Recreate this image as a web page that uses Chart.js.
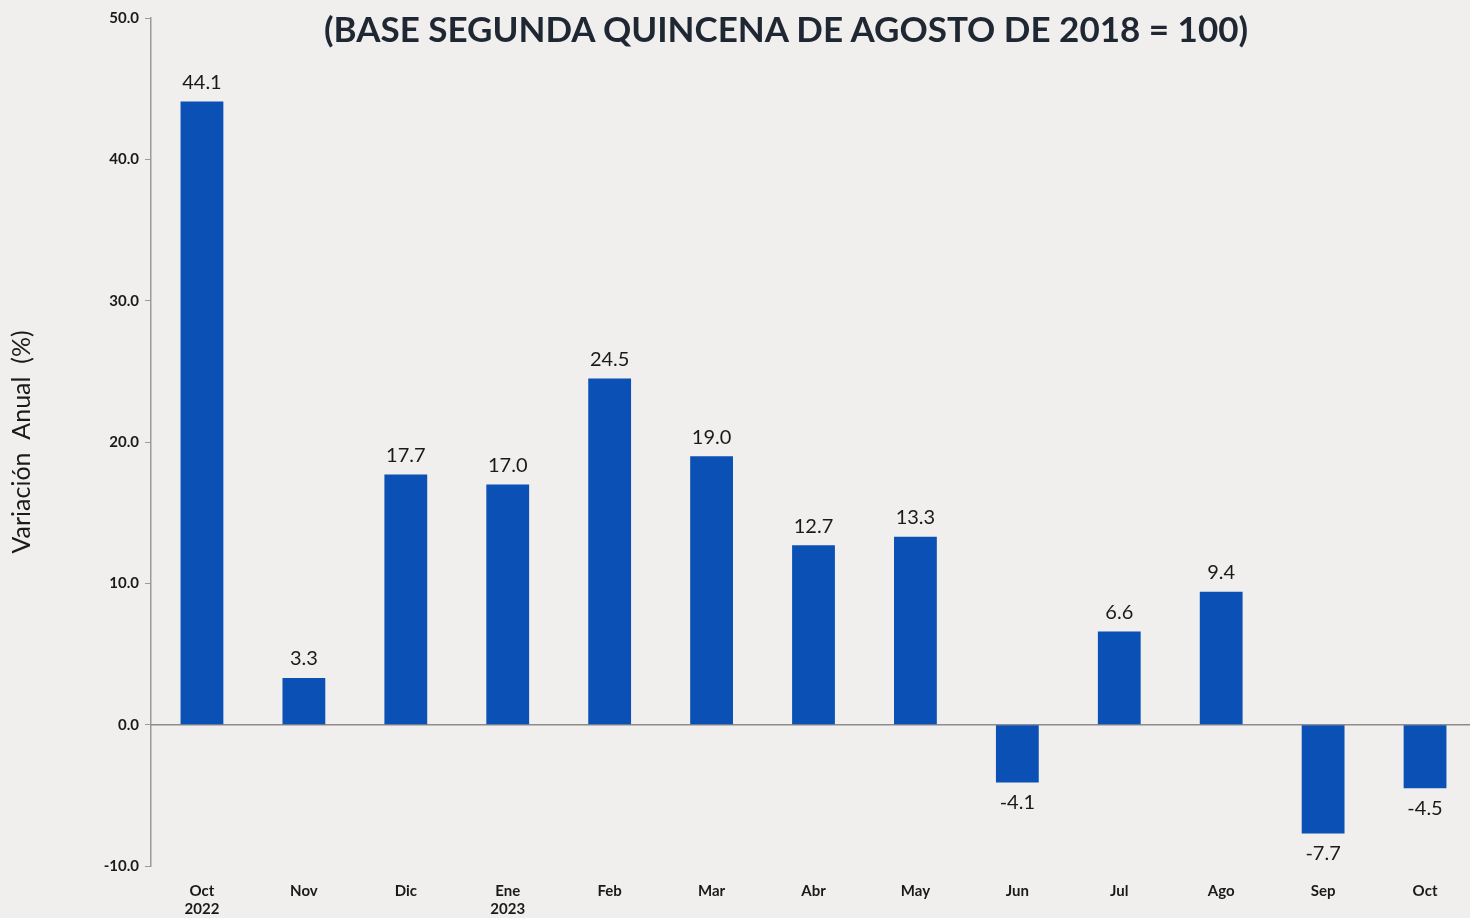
<!DOCTYPE html>
<html>
<head>
<meta charset="utf-8">
<script src="https://cdn.jsdelivr.net/npm/chart.js@4.4.1/dist/chart.umd.min.js"></script>
<style>
  html, body { margin:0; padding:0; width:1470px; height:918px; overflow:hidden; background:#f0efed; }
  #wrap { position:absolute; left:0; top:0; width:1480px; height:918px; }
  #title { position:absolute; left:0; top:7px; width:1572px; text-align:center; font-family:"Lato", sans-serif; font-weight:700; font-size:35px; color:#1f2733; white-space:nowrap; }
</style>
</head>
<body>
<div id="wrap"><canvas id="c" width="1480" height="918"></canvas></div>
<div id="title">(BASE SEGUNDA QUINCENA DE AGOSTO DE 2018 = 100)</div>
<script>
const categories = [["Oct","2022"],"Nov","Dic",["Ene","2023"],"Feb","Mar","Abr","May","Jun","Jul","Ago","Sep","Oct"];
const values = [44.1, 3.3, 17.7, 17.0, 24.5, 19.0, 12.7, 13.3, -4.1, 6.6, 9.4, -7.7, -4.5];
const yTicks = [50, 40, 30, 20, 10, 0, -10];
const yTitle = "Variación  Anual  (%)";

const labelPlugin = {
  id: 'valueLabels',
  afterDatasetsDraw(chart) {
    const ctx = chart.ctx;
    const meta = chart.getDatasetMeta(0);
    ctx.save();
    ctx.font = '20px "Lato", sans-serif';
    ctx.fillStyle = '#1a1a1a';
    ctx.textAlign = 'center';
    ctx.textBaseline = 'middle';
    meta.data.forEach((bar, i) => {
      const v = values[i];
      const y = v >= 0 ? bar.y - 19 : bar.y + 20;
      ctx.fillText(v.toFixed(1), bar.x, y);
    });
    ctx.restore();
  }
};

const zeroLine = {
  id: 'zeroLine',
  beforeDatasetsDraw(chart) {
    const ctx = chart.ctx;
    const y = chart.scales.y.getPixelForValue(0);
    ctx.save();
    ctx.strokeStyle = '#8c8c8c';
    ctx.lineWidth = 1.5;
    ctx.beginPath();
    ctx.moveTo(chart.chartArea.left, y);
    ctx.lineTo(chart.width, y);
    ctx.stroke();
    ctx.restore();
  }
};

new Chart(document.getElementById('c'), {
  type: 'bar',
  data: {
    labels: categories,
    datasets: [{
      data: values,
      backgroundColor: '#0b50b4',
      borderWidth: 0,
      barPercentage: 0.42,
      categoryPercentage: 1.0
    }]
  },
  options: {
    responsive: false,
    animation: false,
    layout: { padding: { top: 18, right: 4, bottom: 0, left: 0 } },
    plugins: { legend: { display: false }, tooltip: { enabled: false } },
    scales: {
      x: {
        grid: { display: false, drawTicks: false },
        border: { display: false },
        ticks: {
          color: '#1a1a1a',
          font: { family: 'Lato', size: 15, weight: 'bold' },
          padding: 16,
          maxRotation: 0,
          autoSkip: false
        },
        afterFit(s) { s.height = 52; }
      },
      y: {
        min: -10, max: 50,
        afterBuildTicks(s) { s.ticks = yTicks.map(v => ({ value: v })); },
        grid: { drawOnChartArea: false, drawTicks: true, tickLength: 6, tickColor: '#9a9a9a' },
        border: { display: true, color: '#9a9a9a', width: 1.5 },
        ticks: {
          color: '#1a1a1a',
          font: { family: 'Lato', size: 15, weight: 'bold' },
          padding: 6,
          callback: v => Number(v).toFixed(1)
        },
        title: {
          display: true,
          text: yTitle,
          color: '#1a1a1a',
          font: { family: 'Lato', size: 25 },
          padding: { top: 7, bottom: 0 }
        },
        afterFit(s) { s.width = 151; }
      }
    }
  },
  plugins: [zeroLine, labelPlugin]
});
</script>
</body>
</html>
